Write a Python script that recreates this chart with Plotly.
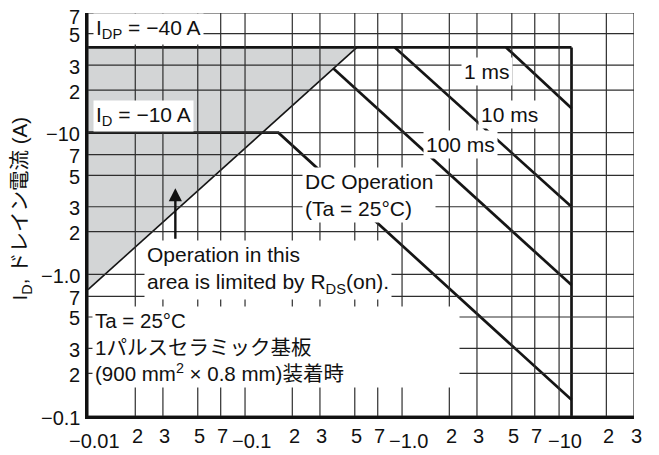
import math
import plotly.graph_objects as go

# ---- data (|V_DS| in V, |I_D| in A) ----
rds_v = [0.01, 0.516]          # R_DS(on) limit line
rds_i = [0.78, 40]
idp_v = [0.01, 12]             # I_DP = -40 A
idp_i = [40, 40]
vdss_v = [12, 12]              # V_DSS limit
vdss_i = [40, 0.1]
dc_v = [0.01, 0.163, 12]       # DC operation
dc_i = [10, 10, 0.13]
ms100_v = [0.364, 12]
ms100_i = [28.5, 0.84]
ms10_v = [0.9, 12]
ms10_i = [40, 3.0]
ms1_v = [4.6, 12]
ms1_i = [40, 14.9]

x_tickvals = [0.01, 0.02, 0.03, 0.05, 0.07, 0.1, 0.2, 0.3, 0.5, 0.7,
              1, 2, 3, 5, 7, 10, 20, 30]
x_ticktext = ["−0.01", "2", "3", "5", "7", "−0.1", "2", "3", "5", "7",
              "−1.0", "2", "3", "5", "7", "−10", "2", "3"]
y_tickvals = [0.1, 0.2, 0.3, 0.5, 0.7, 1, 2, 3, 5, 7, 10, 20, 30, 50, 70]
y_ticktext = ["−0.1", "2", "3", "5", "7", "−1.0", "2", "3", "5", "7",
              "−10", "2", "3", "5", "7"]

x_range = [0.01, 30]
y_range = [0.1, 70]

FONT = "Liberation Sans, Arial, Helvetica, Noto Sans CJK JP, sans-serif"
LINE = "#151515"
GRID = "#2e2e2e"
L = math.log10

fig = go.Figure()

# shaded R_DS(on)-limited area
fig.add_trace(go.Scatter(
    x=rds_v + [rds_v[0]], y=rds_i + [idp_i[0]],
    fill="toself", fillcolor="#d3d5d6",
    line=dict(width=0), mode="lines", hoverinfo="skip"))

fig.add_trace(go.Scatter(x=rds_v, y=rds_i, mode="lines",
                         line=dict(color=LINE, width=1.6)))
for xs, ys in [(idp_v, idp_i), (vdss_v, vdss_i), (dc_v, dc_i),
               (ms100_v, ms100_i), (ms10_v, ms10_i), (ms1_v, ms1_i)]:
    fig.add_trace(go.Scatter(x=xs, y=ys, mode="lines",
                             line=dict(color=LINE, width=2.7)))

ann = []


def box(text, x, y, xanchor="left", align="left", width=None, size=21):
    d = dict(text=text, x=L(x), y=L(y), xref="x", yref="y",
             xanchor=xanchor, yanchor="middle", align=align,
             showarrow=False, bgcolor="white", borderpad=2,
             font=dict(family=FONT, size=size, color="#111"))
    if width:
        d["width"] = width
    ann.append(d)


box("I<sub>DP</sub> = −40 A", 0.0107, 54)
box("I<sub>D</sub> = −10 A", 0.0107, 13.2)
box("1 ms", 3.48, 27.0, xanchor="center")
box("10 ms", 4.8, 13.4, xanchor="center")
box("100 ms", 2.34, 8.2, xanchor="center")
box("DC Operation<br>(Ta = 25°C)", 0.232, 3.66)
box("Operation in this<br>area is limited by R<sub>DS</sub>(on).", 0.0226, 1.07)
box("Ta = 25°C<br>1パルスセラミック基板<br>(900 mm<sup>2</sup> × 0.8 mm)装着時",
    0.01066, 0.306, width=362, size=20.5)

# arrow pointing into the shaded area
arrow_x, arrow_y = 0.036, 4.06
ann.append(dict(x=L(arrow_x), y=L(arrow_y), xref="x", yref="y", text="",
                showarrow=True, ax=0, ay=52, arrowhead=2, arrowsize=1.1,
                arrowwidth=2.4, arrowcolor="#111", standoff=0))

# x tick labels (decade labels set lower)
for v, t in zip(x_tickvals, x_ticktext):
    decade = t.startswith("−")
    ann.append(dict(x=L(v), y=0, xref="x", yref="paper", text=t,
                    showarrow=False, xanchor="center", yanchor="middle",
                    yshift=-25 if decade else -19.5,
                    xshift=6 if decade else 2,
                    font=dict(family=FONT, size=20, color="#111")))

# y tick labels
for v, t in zip(y_tickvals, y_ticktext):
    ann.append(dict(x=0, y=L(v), xref="paper", yref="y", text=t,
                    showarrow=False, xanchor="right", yanchor="middle",
                    xshift=-6, yshift=-4 if v == y_tickvals[-1] else -1.5,
                    font=dict(family=FONT, size=20, color="#111")))

# y axis title
ann.append(dict(text="I<sub>D</sub>, ドレイン電流 (A)", x=-0.121, y=0.515,
                xref="paper", yref="paper", textangle=-90, showarrow=False,
                xanchor="center", yanchor="middle",
                font=dict(family=FONT, size=20.5, color="#111")))

# grid lines at the tick positions (shape coords on log axes are data values)
shapes = []
for v in x_tickvals:
    shapes.append(dict(type="line", xref="x", yref="paper", x0=v, x1=v,
                       y0=0, y1=1, layer="above",
                       line=dict(color=GRID, width=1.2)))
for v in y_tickvals:
    shapes.append(dict(type="line", xref="paper", yref="y", x0=0, x1=1,
                       y0=v, y1=v, layer="above",
                       line=dict(color=GRID, width=1.2)))

# page body has an 8px default margin -> figure is 651x447
fig.update_layout(
    width=651, height=447,
    margin=dict(l=80, r=25, t=5, b=39, autoexpand=False),
    paper_bgcolor="white", plot_bgcolor="rgba(0,0,0,0)",
    showlegend=False,
    annotations=ann,
    shapes=shapes,
    font=dict(family=FONT, size=20, color="#111"),
)
fig.update_xaxes(type="log", range=[L(x_range[0]), L(x_range[1])],
                 showticklabels=False, showgrid=False, automargin=False,
                 showline=True, linecolor="#111", linewidth=3,
                 ticks="", zeroline=False)
fig.update_yaxes(type="log", range=[L(y_range[0]), L(y_range[1])],
                 showticklabels=False, showgrid=False, automargin=False,
                 showline=True, linecolor="#111", linewidth=3,
                 ticks="", zeroline=False)

fig.write_html("out.html")
